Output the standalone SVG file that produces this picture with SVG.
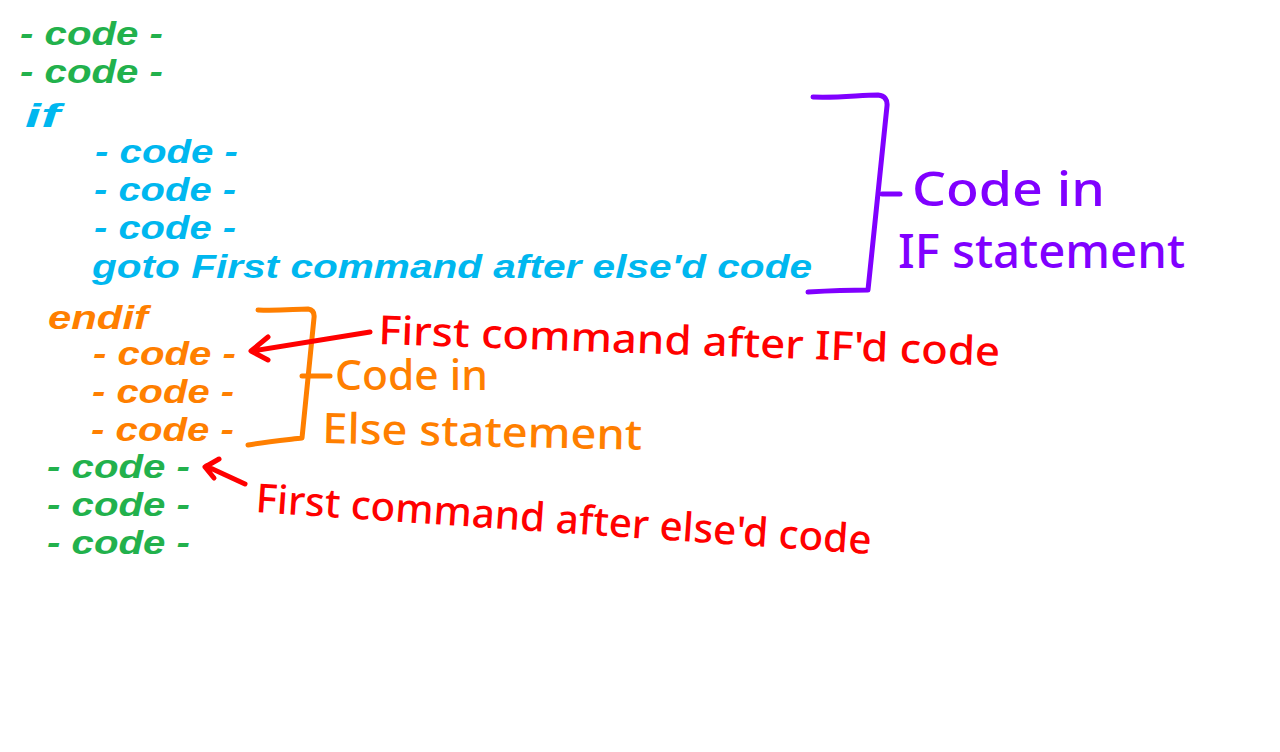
<svg xmlns="http://www.w3.org/2000/svg" width="1280" height="752" viewBox="0 0 1280 752">
<style>
.code{font-family:"Liberation Sans",Arial,sans-serif;font-weight:bold;font-style:italic;font-size:34px}
.g{fill:#22b14c}.c{fill:#00b7ef}.o{fill:#ff7f00}
.hand{font-family:"Noto Sans","Open Sans",sans-serif;font-weight:500}
.br{fill:none;stroke-width:5;stroke-linecap:round;stroke-linejoin:round}
</style>
<rect width="1280" height="752" fill="#ffffff"/>
<g id="code-listing">
<text class="code g" x="20" y="45" textLength="143" lengthAdjust="spacingAndGlyphs">- code -</text>
<text class="code g" x="20" y="83" textLength="143" lengthAdjust="spacingAndGlyphs">- code -</text>
<text class="code c" x="25" y="127" textLength="35" lengthAdjust="spacingAndGlyphs">if</text>
<text class="code c" x="95" y="163" textLength="143" lengthAdjust="spacingAndGlyphs">- code -</text>
<text class="code c" x="94" y="201" textLength="142" lengthAdjust="spacingAndGlyphs">- code -</text>
<text class="code c" x="94" y="239" textLength="142" lengthAdjust="spacingAndGlyphs">- code -</text>
<text class="code c" x="92" y="278" textLength="720" lengthAdjust="spacingAndGlyphs">goto First command after else'd code</text>
<text class="code o" x="48" y="329" textLength="100" lengthAdjust="spacingAndGlyphs">endif</text>
<text class="code o" x="93" y="365" textLength="143" lengthAdjust="spacingAndGlyphs">- code -</text>
<text class="code o" x="92" y="403" textLength="142" lengthAdjust="spacingAndGlyphs">- code -</text>
<text class="code o" x="91" y="441" textLength="143" lengthAdjust="spacingAndGlyphs">- code -</text>
<text class="code g" x="47" y="478" textLength="143" lengthAdjust="spacingAndGlyphs">- code -</text>
<text class="code g" x="47" y="516" textLength="143" lengthAdjust="spacingAndGlyphs">- code -</text>
<text class="code g" x="47" y="554" textLength="143" lengthAdjust="spacingAndGlyphs">- code -</text>
</g>
<g id="if-bracket">
<path class="br" stroke="#8000ff" d="M813,97 C840,98 860,95 878,95 Q888,96 887,106 L868,290 C845,290 825,291 808,292"/>
<path class="br" stroke="#8000ff" d="M882,194 L900,194"/>
<text class="hand" fill="#8000ff" font-size="48" x="912" y="206" textLength="193" lengthAdjust="spacingAndGlyphs">Code in</text>
<text class="hand" fill="#8000ff" font-size="48" x="898" y="268" textLength="287" lengthAdjust="spacingAndGlyphs">IF statement</text>
</g>
<g id="else-bracket">
<path class="br" stroke="#ff7f00" d="M258,310 C280,311 295,309 308,309 Q315,310 314,318 L302,438 C285,440 265,442 248,445"/>
<path class="br" stroke="#ff7f00" d="M302,376 L330,376"/>
<text class="hand" fill="#ff7f00" font-size="42" x="335" y="390" textLength="153" lengthAdjust="spacingAndGlyphs">Code in</text>
<text class="hand" fill="#ff7f00" font-size="42" x="322" y="443" textLength="320" lengthAdjust="spacingAndGlyphs" transform="rotate(1.2 322 443)">Else statement</text>
</g>
<g id="connectors">
<path class="br" stroke="#ff0000" d="M370,332 L252,351 M268,337 L251,351 L268,360"/>
<path class="br" stroke="#ff0000" d="M245,484 L206,466 M219,459 L205,467 L214,478"/>
</g>
<g id="labels">
<text class="hand" fill="#ff0000" font-size="40" x="378" y="344" textLength="622" lengthAdjust="spacingAndGlyphs" transform="rotate(2 378 344)">First command after IF'd code</text>
<text class="hand" fill="#ff0000" font-size="40" x="255" y="512" textLength="617" lengthAdjust="spacingAndGlyphs" transform="rotate(3.9 255 512)">First command after else'd code</text>
</g>
</svg>
